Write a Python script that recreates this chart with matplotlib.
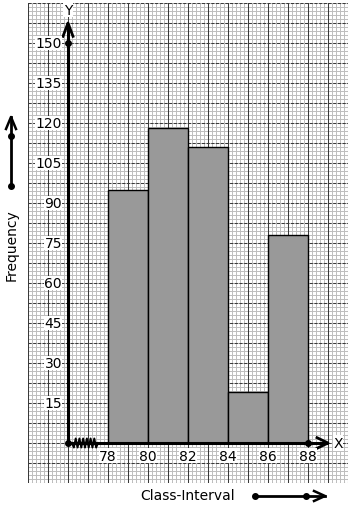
import numpy as np
import matplotlib
matplotlib.use("Agg")
import matplotlib.pyplot as plt
from matplotlib.lines import Line2D

# ---- data ----
class_edges = [78, 80, 82, 84, 86, 88]
frequencies = [95, 118, 111, 19, 78]
y_ticks = [15, 30, 45, 60, 75, 90, 105, 120, 135, 150]
x_ticks = [78, 80, 82, 84, 86, 88]

W, H = 353, 510
fig = plt.figure(figsize=(W / 100, H / 100), dpi=100)
fig.patch.set_facecolor("white")

def fx(px):
    return px / W

def fy(py):
    return 1 - py / H

# graph paper axes: px x 28..348, y 4..484
ax = fig.add_axes([fx(28), fy(484), (348 - 28) / W, (484 - 4) / H])
xmin, xmax, ymin, ymax = 74, 90, -15, 165
ax.set_xlim(xmin, xmax)
ax.set_ylim(ymin, ymax)
ax.axis("off")

# minor grid
for x in np.arange(xmin, xmax + 1e-9, 0.2):
    ax.axvline(x, color="#bdbdbd", lw=0.7, zorder=0)
for y in np.arange(ymin, ymax + 1e-9, 1.5):
    ax.axhline(y, color="#bdbdbd", lw=0.7, zorder=0)
# major grid
for x in np.arange(xmin, xmax + 1e-9, 1.0):
    ax.axvline(x, color="#3a3a3a", lw=0.75, zorder=0.5)
for y in np.arange(ymin, ymax + 1e-9, 7.5):
    ax.axhline(y, color="#3a3a3a", lw=0.75, ls=(0, (3, 1.5)), zorder=0.5)

# bars
widths = np.diff(class_edges)
ax.bar(class_edges[:-1], frequencies, width=widths, align="edge",
       color="#999999", edgecolor="black", linewidth=1.0, zorder=2)

# axes lines
ax.plot([76, 76], [0, 157], color="black", lw=2.2, zorder=3, solid_capstyle="butt")
ax.plot([76, 89], [0, 0], color="black", lw=2.2, zorder=3, solid_capstyle="butt")
# arrow heads (open chevrons)
ax.plot([75.75, 76, 76.25], [152.5, 157.5, 152.5], color="black", lw=2, zorder=3)
ax.plot([88.45, 89, 88.45], [2.0, 0, -2.0], color="black", lw=2, zorder=3)
ax.text(76, 162.5, "Y", ha="center", va="center", fontsize=10, zorder=4,
        bbox=dict(facecolor="white", edgecolor="none", pad=0.5))
ax.text(89.5, 0, "X", ha="center", va="center", fontsize=10, zorder=4,
        bbox=dict(facecolor="white", edgecolor="none", pad=0.5))

# dots
ax.plot([76, 76, 88], [0, 150, 0], "o", color="black", ms=4, zorder=4)

# zigzag break
n = 15
zx = np.linspace(76.2, 77.5, n)
zy = np.tile([1.7, -1.7], n)[:n]
zy[0] = 0
zy[-1] = 0
ax.plot(zx, zy, color="black", lw=1.4, zorder=4)

# tick labels
for t in y_ticks:
    ax.text(75.7, t, str(t), ha="right", va="center", fontsize=10, zorder=4,
            bbox=dict(facecolor="white", edgecolor="none", pad=0.3))
for t in x_ticks:
    ax.text(t, -4.7, str(t), ha="center", va="center", fontsize=10, zorder=4,
            bbox=dict(facecolor="white", edgecolor="none", pad=0.3))

# outside annotations
fig.text(fx(12), fy(245), "Frequency", rotation=90, ha="center", va="center", fontsize=10)
fig.text(fx(188), fy(496), "Class-Interval", ha="center", va="center", fontsize=10)

# left arrow
fig.add_artist(Line2D([fx(11), fx(11)], [fy(187), fy(118)], color="black", lw=2))
fig.add_artist(Line2D([fx(6), fx(11), fx(16)], [fy(130), fy(118), fy(130)], color="black", lw=1.8))
fig.add_artist(Line2D([fx(11), fx(11)], [fy(137), fy(187)], ls="none", marker="o", ms=4, color="black"))

# bottom arrow
fig.add_artist(Line2D([fx(255), fx(325)], [fy(497), fy(497)], color="black", lw=2))
fig.add_artist(Line2D([fx(314), fx(325), fx(314)], [fy(492), fy(497), fy(502)], color="black", lw=1.8))
fig.add_artist(Line2D([fx(255), fx(305.5)], [fy(497), fy(497)], ls="none", marker="o", ms=4, color="black"))

fig.savefig("out.png", dpi=100, facecolor="white")
